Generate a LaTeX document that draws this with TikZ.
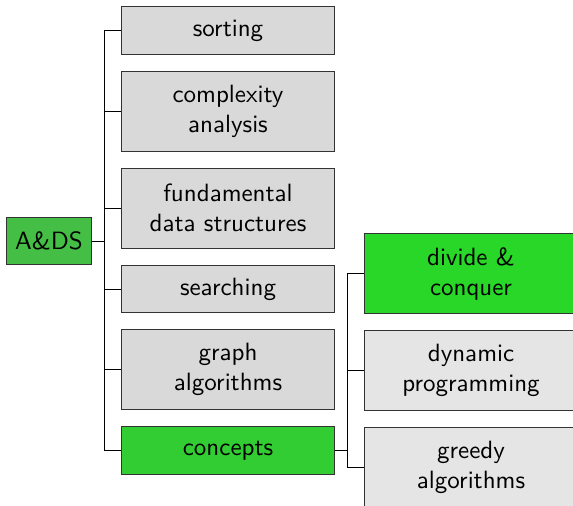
\documentclass[tikz,border=0pt]{standalone}
\usetikzlibrary{positioning}
\definecolor{adsgreen}{RGB}{68,190,68}
\definecolor{concgreen}{RGB}{50,205,50}
\definecolor{dcgreen}{RGB}{40,215,40}
\begin{document}
\begin{tikzpicture}[font=\sffamily,node distance=6.4pt,
	topic/.style={draw=black!80,fill=gray!30,minimum width=85pt,minimum height=19pt,align=center},
	tall/.style={minimum height=32pt},
	subtopic/.style={topic,tall,fill=gray!20}]
	\useasboundingbox (0,0) rectangle (229.2pt,-202pt);
	\clip (0,0) rectangle (229.2pt,-202pt);
	% root
	\node[draw=black!80,fill=adsgreen,minimum height=19pt] (ads) at (19.6pt,-96.4pt) {A\&DS};
	% first column
	\node[topic] (sort) at (91.2pt,-12.2pt) {sorting};
	\node[topic,tall,below=of sort] (cplx) {complexity\\analysis};
	\node[topic,tall,below=of cplx] (fund) {fundamental\\data structures};
	\node[topic,below=of fund] (srch) {searching};
	\node[topic,tall,below=of srch] (graph) {graph\\algorithms};
	\node[topic,fill=concgreen,below=of graph] (conc) {concepts};
	% second column
	\node[subtopic,fill=dcgreen] (dc) at (188.4pt,-109.4pt) {divide \&\\conquer};
	\node[subtopic,below=of dc] (dp) {dynamic\\programming};
	\node[subtopic,below=of dp] (greedy) {greedy\\algorithms};
	% edges
	\foreach \n in {sort,cplx,fund,srch,graph,conc}{
		\draw (ads.east) -- ++(5.2pt,0) |- (\n.west);
	}
	\foreach \n in {dc,dp,greedy}{
		\draw (conc.east) -- ++(5.2pt,0) |- (\n.west);
	}
\end{tikzpicture}
\end{document}
